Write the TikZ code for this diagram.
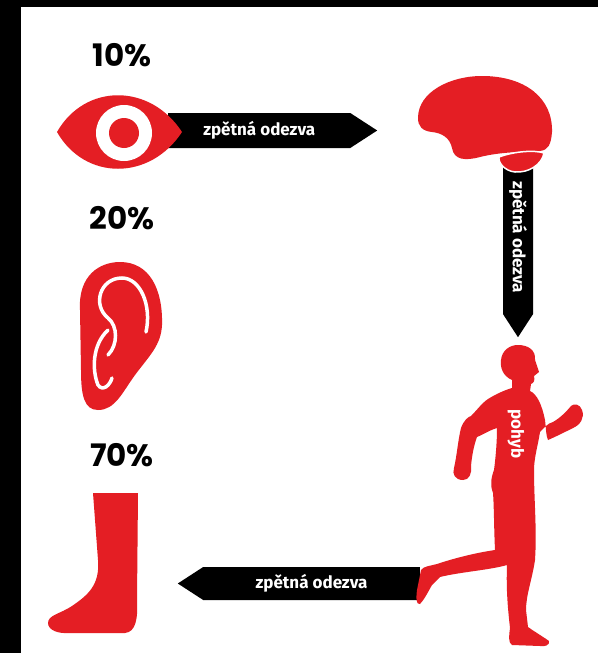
\documentclass[tikz,border=0pt]{standalone}
\usepackage{fontspec}
\usepackage{tikz}
\usetikzlibrary{positioning, shapes.symbols}

\newfontfamily\pctfont{Poppins}
\newfontfamily\bannerfont{Fira Sans}
\definecolor{bodyred}{RGB}{228,30,36}

\tikzset{
	pct/.style={font=\pctfont\bfseries\fontsize{31}{31}\selectfont, inner sep=0pt},
	banner/.style={signal, fill=black, text=white, inner sep=0pt, signal pointer angle=66,
		font=\bannerfont\bfseries\fontsize{17}{17}\selectfont},
	organ/.style={fill=bodyred},
	earline/.style={draw=white, line width=3.5pt, line cap=round},
}

\begin{document}
\begin{tikzpicture}[x=1pt, y=-1pt]
	\useasboundingbox (0,0) rectangle (598,653);
	\fill[black] (0,0) rectangle (598,653);
	\fill[white] (21,7) rectangle (598,653);

	% percentages
	\node[pct] (p10) at (122,55) {10\%};
	\node[pct] (p20) at (122,218) {20\%};
	\node[pct] (p70) at (122,455) {70\%};

	% feedback banners
	\node[banner, signal to=east, anchor=west, minimum width=209, minimum height=35] (fbeye) at (168,130.5) {zpětná odezva};
	\node[banner, signal to=east, anchor=west, rotate=-90, minimum width=177, minimum height=30] (fbbrain) at (518,160) {zpětná odezva};
	\node[banner, signal to=west, anchor=east, minimum width=242, minimum height=33] (fbrun) at (420,583.5) {zpětná odezva};

	% eye
	\fill[organ] (57,132) .. controls (85,83) and (150,83) .. (182,132) .. controls (150,181) and (85,181) .. (57,132) -- cycle;
	\fill[white] (124,133) circle (28);
	\fill[organ] (124,133) circle (15);

	% brain
	\fill[organ] (418,118) .. controls (418,92) and (450,76) .. (482,76) .. controls (525,76) and (553,98) .. (552,132)
		.. controls (551,145) and (548,150) .. (540,151) .. controls (520,152) and (500,152) .. (480,157)
		.. controls (465,161) and (454,160) .. (452,148) .. controls (450,138) and (442,133) .. (432,132)
		.. controls (422,131) and (418,126) .. (418,118) -- cycle;
	\filldraw[organ, draw=white, line width=1.5pt] (499,157) .. controls (515,151) and (535,150) .. (544,153)
		.. controls (542,165) and (528,173) .. (515,172) .. controls (505,171) and (498,163) .. (499,157) -- cycle;

	% ear
	\fill[organ] (80,310) .. controls (78,275) and (100,262) .. (120,262) .. controls (150,262) and (163,290) .. (162,325)
		.. controls (161,345) and (150,355) .. (135,375) .. controls (122,393) and (115,410) .. (98,410)
		.. controls (84,410) and (81,395) .. (81,370) -- cycle;
	\draw[earline] (146,332) .. controls (152,305) and (140,278) .. (122,278) .. controls (100,278) and (92,305) .. (108,318)
		.. controls (118,326) and (118,345) .. (108,355);
	\draw[earline] (108,330) .. controls (92,345) and (92,370) .. (98,385) .. controls (103,392) and (110,385) .. (112,378);

	% leg
	\fill[organ] (93,493) -- (138,493) -- (137,600) .. controls (138,618) and (136,632) .. (125,633) -- (70,633)
		.. controls (58,634) and (48,630) .. (48,623) .. controls (48,615) and (60,614) .. (72,606)
		.. controls (88,595) and (100,585) .. (98,560) -- cycle;

	% runner
	\fill[organ] (518,345) .. controls (528,345) and (536,350) .. (535,360) -- (539,372) -- (534,376)
		.. controls (535,380) and (534,383) .. (531,384) -- (530,391)
		.. controls (537,394) and (542,405) .. (545,420) .. controls (546,428) and (546,436) .. (548,440)
		.. controls (555,437) and (565,432) .. (573,428) .. controls (580,425) and (585,418) .. (582,410)
		.. controls (580,404) and (574,403) .. (571,406) .. controls (566,412) and (560,418) .. (553,422)
		.. controls (548,423) and (544,428) .. (540,432) .. controls (538,445) and (534,458) .. (534,470)
		.. controls (534,500) and (537,530) .. (535,560) .. controls (532,580) and (526,595) .. (526,610)
		-- (528,627) .. controls (535,632) and (545,638) .. (549,641) .. controls (550,645) and (545,647) .. (540,646)
		-- (512,645) .. controls (508,643) and (509,635) .. (510,628) .. controls (508,610) and (506,590) .. (507,565)
		.. controls (490,570) and (460,572) .. (440,577) -- (432,585) .. controls (428,592) and (424,600) .. (420,604)
		.. controls (416,605) and (416,598) .. (417,590) -- (421,570) .. controls (424,566) and (430,566) .. (437,564)
		.. controls (455,558) and (475,553) .. (495,550) .. controls (494,530) and (494,505) .. (493,493)
		.. controls (490,485) and (491,478) .. (494,470) .. controls (496,455) and (497,440) .. (497,428)
		.. controls (490,430) and (482,435) .. (477,437) .. controls (474,445) and (472,455) .. (471,466)
		.. controls (472,474) and (469,480) .. (463,480) .. controls (455,480) and (452,474) .. (454,468)
		.. controls (457,455) and (458,440) .. (461,428) .. controls (464,420) and (468,417) .. (471,416)
		.. controls (477,410) and (482,403) .. (488,399) .. controls (496,394) and (505,390) .. (512,388)
		-- (512,380) .. controls (503,376) and (500,368) .. (501,360) .. controls (502,350) and (510,345) .. (518,345) -- cycle;
	\node[rotate=-90, text=white, inner sep=0pt, font=\bannerfont\bfseries\fontsize{17}{17}\selectfont] (move) at (516,434) {pohyb};
\end{tikzpicture}
\end{document}
